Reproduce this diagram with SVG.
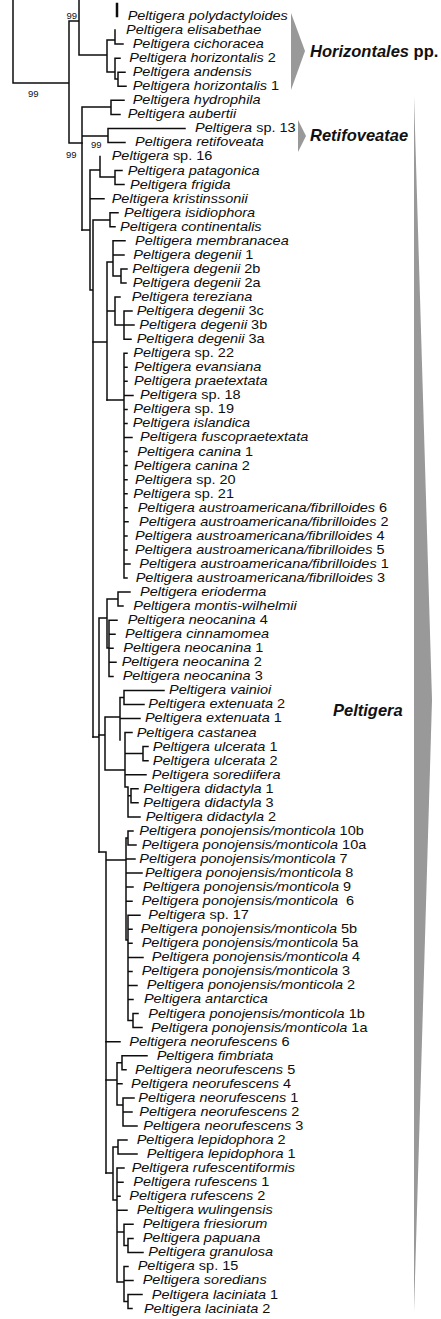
<svg xmlns="http://www.w3.org/2000/svg" width="441" height="1319" viewBox="0 0 441 1319">
<style>
.t{font-family:"Liberation Sans",Arial,sans-serif;font-size:13px;font-style:italic;fill:#0d0d0d}
.n{font-style:normal}
.c{font-family:"Liberation Sans",Arial,sans-serif;font-size:16.5px;font-weight:bold;font-style:italic;fill:#111}
.s{font-family:"Liberation Sans",Arial,sans-serif;font-size:9.5px;fill:#111}
.e{fill:none;stroke:#0d0d0d;stroke-width:1.5;stroke-linecap:square}
.g{fill:#999}
</style>
<rect width="441" height="1319" fill="#fff"/>
<g id="clades">
<polygon class="g" points="291,13 305,51 291,90"/>
<polygon class="g" points="298,120 306,136 298,152"/>
<polygon class="g" points="414,96 432,700 414,1312"/>
<text class="c" x="310" y="57">Horizontales<tspan class="n"> pp.</tspan></text>
<text class="c" x="310" y="141">Retifoveatae</text>
<text class="c" x="333" y="716">Peltigera</text>
</g>
<g id="support">
<text class="s" x="66.5" y="18.5">99</text>
<text class="s" x="28" y="97">99</text>
<text class="s" x="66" y="158">99</text>
<text class="s" x="91" y="148">99</text>
</g>
<g id="connectors" class="e">
<path d="M13,0V83H69M69,21V143H82M69,21H79M79,0V55H107M107,40V72M107,40H115M115,30.1V44.1H123M107,72H115M115,58.2V79H118M115,58.2H120M118,72.2V86.3M118,72.2H125M118,86.3H126"/>
<path d="M117,4V16" stroke-width="2.5"/>
<path d="M82,107V230M82,107H111M111,100.3V114.4M111,100.3H124M111,114.4H120M82,136H108M108,128.4V142.5M108,128.4H185M108,142.5H125"/>
<path d="M82,230H90M90,170V290M90,170H100M100,156.5V177M100,177H115M115,170.6V184.6M115,170.6H122M115,184.6H124M90,198.7H104M90,290H93M93,220V737M93,220H110M110,212.7V226.8M110,212.7H118M110,226.8H115"/>
<path d="M93,342H107M107,262V400M107,262H113M113,240.8V276M113,240.8H125M113,254.9H124M113,276H121M121,268.9V283M121,268.9H127M121,283H126M107,311H115M115,297V325.1M115,297H120M115,325.1H124M124,311.1V339.2M124,311.1H132M124,325.1H134M124,339.2H131"/>
<path d="M107,400H124M124,353.2V578M124,353.2H127M124,367.3H127M124,381.3H127M124,395.4H133M124,409.4H127M124,423.5H127M124,437.5H132M124,451.6H127M124,465.6H127M124,479.7H127M124,493.7H127M124,507.8H127M124,521.8H128M124,535.9H127M124,549.9H127M124,564H130M124,578H127"/>
<path d="M93,737H99M99,618V852M99,618H107M107,599V648M107,599H118M118,592.1V606.1M118,592.1H130M118,606.1H123M107,648H109M109,620.2V676.4M109,620.2H117M109,634.2H115M109,648.3H113M109,662.3H116M109,676.4H113"/>
<path d="M99,735H105M105,717V770M105,717H120M120,697.5V740M120,697.5H124M124,690.4V704.5M124,690.4H164M124,704.5H144M120,718.5H140M105,770H125M125,732.6V787M125,732.6H132M125,753.6H143M143,746.6V760.7M143,746.6H148M143,760.7H148M125,774.7H146M125,787H128M128,787V816.9M128,795.8H131M131,788.8V802.8M131,788.8H138M131,802.8H138M128,816.9H140"/>
<path d="M99,852H106M106,852V1173M106,860H126M126,838V940M126,838H128M128,830.9V845M128,830.9H133M128,845H136M126,859H135M126,873.1H142M126,887.1H133M126,901.2H132M126,940H128M128,915.2V1020.6M128,915.2H140M128,929.3H132M128,943.3H132M128,957.4H143M128,971.4H132M128,985.5H137M128,999.5H133M128,1020.6H133M133,1013.6V1027.6M133,1013.6H138M133,1027.6H142"/>
<path d="M106,1041.7H120M106,1080H117M117,1062.7V1105M117,1062.7H122M122,1055.7V1069.8M122,1055.7H147M122,1069.8H126M117,1083.8H122M117,1105H123M123,1097.9V1126M123,1097.9H134M123,1111.9H132M123,1126H137"/>
<path d="M106,1173H113M113,1147V1200M113,1147H118M118,1140V1154.1M118,1140H127M118,1154.1H137M113,1200H117M117,1168.1V1282M117,1168.1H124M117,1182.2H123M117,1196.2H120M117,1210.3H127M117,1232H124M124,1224.3V1245.4M124,1224.3H133M124,1245.4H128M128,1238.4V1252.4M128,1238.4H133M128,1252.4H143M117,1282H124M124,1266.5V1301.6M124,1266.5H128M124,1280.5H133M124,1301.6H128M128,1294.6V1308.6M128,1294.6H142M128,1308.6H132"/>
</g>
<g id="taxa" transform="scale(1.115,1)">
<g id="t1"><text class="t" x="114.5" y="20">Peltigera polydactyloides</text></g>
<g id="t2"><text class="t" x="113" y="34.1">Peltigera elisabethae</text></g>
<g id="t3"><text class="t" x="119" y="48.1">Peltigera cichoracea</text></g>
<g id="t4"><text class="t" x="116" y="62.2">Peltigera horizontalis<tspan class="n"> 2</tspan></text></g>
<g id="t5"><text class="t" x="119" y="76.2">Peltigera andensis</text></g>
<g id="t6"><text class="t" x="119" y="90.3">Peltigera horizontalis<tspan class="n"> 1</tspan></text></g>
<g id="t7"><text class="t" x="119" y="104.3">Peltigera hydrophila</text></g>
<g id="t8"><text class="t" x="114.5" y="118.4">Peltigera aubertii</text></g>
<g id="t9"><text class="t" x="174.9" y="132.4">Peltigera<tspan class="n"> sp. 13</tspan></text></g>
<g id="t10"><text class="t" x="121.1" y="146.5">Peltigera retifoveata</text></g>
<g id="t11"><text class="t" x="100.2" y="160.5">Peltigera<tspan class="n"> sp. 16</tspan></text></g>
<g id="t12"><text class="t" x="114.5" y="174.6">Peltigera patagonica</text></g>
<g id="t13"><text class="t" x="116.6" y="188.6">Peltigera frigida</text></g>
<g id="t14"><text class="t" x="100.2" y="202.7">Peltigera kristinssonii</text></g>
<g id="t15"><text class="t" x="111.2" y="216.7">Peltigera isidiophora</text></g>
<g id="t16"><text class="t" x="107.6" y="230.8">Peltigera continentalis</text></g>
<g id="t17"><text class="t" x="121.1" y="244.8">Peltigera membranacea</text></g>
<g id="t18"><text class="t" x="119.6" y="258.9">Peltigera degenii<tspan class="n"> 1</tspan></text></g>
<g id="t19"><text class="t" x="118.7" y="272.9">Peltigera degenii<tspan class="n"> 2b</tspan></text></g>
<g id="t20"><text class="t" x="119" y="287">Peltigera degenii<tspan class="n"> 2a</tspan></text></g>
<g id="t21"><text class="t" x="118.1" y="301">Peltigera tereziana</text></g>
<g id="t22"><text class="t" x="122.6" y="315.1">Peltigera degenii<tspan class="n"> 3c</tspan></text></g>
<g id="t23"><text class="t" x="124.9" y="329.1">Peltigera degenii<tspan class="n"> 3b</tspan></text></g>
<g id="t24"><text class="t" x="122.6" y="343.2">Peltigera degenii<tspan class="n"> 3a</tspan></text></g>
<g id="t25"><text class="t" x="119.6" y="357.2">Peltigera<tspan class="n"> sp. 22</tspan></text></g>
<g id="t26"><text class="t" x="120.4" y="371.3">Peltigera evansiana</text></g>
<g id="t27"><text class="t" x="120.2" y="385.3">Peltigera praetextata</text></g>
<g id="t28"><text class="t" x="125.6" y="399.4">Peltigera<tspan class="n"> sp. 18</tspan></text></g>
<g id="t29"><text class="t" x="119.6" y="413.4">Peltigera<tspan class="n"> sp. 19</tspan></text></g>
<g id="t30"><text class="t" x="119" y="427.5">Peltigera islandica</text></g>
<g id="t31"><text class="t" x="125.6" y="441.5">Peltigera fuscopraetextata</text></g>
<g id="t32"><text class="t" x="123.1" y="455.6">Peltigera canina<tspan class="n"> 1</tspan></text></g>
<g id="t33"><text class="t" x="120.2" y="469.6">Peltigera canina<tspan class="n"> 2</tspan></text></g>
<g id="t34"><text class="t" x="121.1" y="483.7">Peltigera<tspan class="n"> sp. 20</tspan></text></g>
<g id="t35"><text class="t" x="119.6" y="497.7">Peltigera<tspan class="n"> sp. 21</tspan></text></g>
<g id="t36"><text class="t" x="123.5" y="511.8">Peltigera austroamericana/fibrilloides<tspan class="n"> 6</tspan></text></g>
<g id="t37"><text class="t" x="124.7" y="525.8">Peltigera austroamericana/fibrilloides<tspan class="n"> 2</tspan></text></g>
<g id="t38"><text class="t" x="121.1" y="539.9">Peltigera austroamericana/fibrilloides<tspan class="n"> 4</tspan></text></g>
<g id="t39"><text class="t" x="121.1" y="553.9">Peltigera austroamericana/fibrilloides<tspan class="n"> 5</tspan></text></g>
<g id="t40"><text class="t" x="124.9" y="568">Peltigera austroamericana/fibrilloides<tspan class="n"> 1</tspan></text></g>
<g id="t41"><text class="t" x="121.7" y="582">Peltigera austroamericana/fibrilloides<tspan class="n"> 3</tspan></text></g>
<g id="t42"><text class="t" x="125.6" y="596.1">Peltigera erioderma</text></g>
<g id="t43"><text class="t" x="119.6" y="610.1">Peltigera montis-wilhelmii</text></g>
<g id="t44"><text class="t" x="114.5" y="624.2">Peltigera neocanina<tspan class="n"> 4</tspan></text></g>
<g id="t45"><text class="t" x="112.1" y="638.2">Peltigera cinnamomea</text></g>
<g id="t46"><text class="t" x="110.6" y="652.3">Peltigera neocanina<tspan class="n"> 1</tspan></text></g>
<g id="t47"><text class="t" x="109.1" y="666.3">Peltigera neocanina<tspan class="n"> 2</tspan></text></g>
<g id="t48"><text class="t" x="110" y="680.4">Peltigera neocanina<tspan class="n"> 3</tspan></text></g>
<g id="t49"><text class="t" x="151.6" y="694.4">Peltigera vainioi</text></g>
<g id="t50"><text class="t" x="133" y="708.5">Peltigera extenuata<tspan class="n"> 2</tspan></text></g>
<g id="t51"><text class="t" x="130" y="722.5">Peltigera extenuata<tspan class="n"> 1</tspan></text></g>
<g id="t52"><text class="t" x="122.6" y="736.6">Peltigera castanea</text></g>
<g id="t53"><text class="t" x="137" y="750.6">Peltigera ulcerata<tspan class="n"> 1</tspan></text></g>
<g id="t54"><text class="t" x="137" y="764.7">Peltigera ulcerata<tspan class="n"> 2</tspan></text></g>
<g id="t55"><text class="t" x="136.1" y="778.7">Peltigera sorediifera</text></g>
<g id="t56"><text class="t" x="128.5" y="792.8">Peltigera didactyla<tspan class="n"> 1</tspan></text></g>
<g id="t57"><text class="t" x="128.5" y="806.8">Peltigera didactyla<tspan class="n"> 3</tspan></text></g>
<g id="t58"><text class="t" x="130.7" y="820.9">Peltigera didactyla<tspan class="n"> 2</tspan></text></g>
<g id="t59"><text class="t" x="124.9" y="834.9">Peltigera ponojensis/monticola<tspan class="n"> 10b</tspan></text></g>
<g id="t60"><text class="t" x="127.1" y="849">Peltigera ponojensis/monticola<tspan class="n"> 10a</tspan></text></g>
<g id="t61"><text class="t" x="124.9" y="863">Peltigera ponojensis/monticola<tspan class="n"> 7</tspan></text></g>
<g id="t62"><text class="t" x="130" y="877.1">Peltigera ponojensis/monticola<tspan class="n"> 8</tspan></text></g>
<g id="t63"><text class="t" x="128" y="891.1">Peltigera ponojensis/monticola<tspan class="n"> 9</tspan></text></g>
<g id="t64"><text class="t" x="127.1" y="905.2">Peltigera ponojensis/monticola<tspan class="n" dx="3.5"> 6</tspan></text></g>
<g id="t65"><text class="t" x="133" y="919.2">Peltigera<tspan class="n"> sp. 17</tspan></text></g>
<g id="t66"><text class="t" x="126.2" y="933.3">Peltigera ponojensis/monticola<tspan class="n"> 5b</tspan></text></g>
<g id="t67"><text class="t" x="127.1" y="947.3">Peltigera ponojensis/monticola<tspan class="n"> 5a</tspan></text></g>
<g id="t68"><text class="t" x="136.1" y="961.4">Peltigera ponojensis/monticola<tspan class="n"> 4</tspan></text></g>
<g id="t69"><text class="t" x="127.1" y="975.4">Peltigera ponojensis/monticola<tspan class="n"> 3</tspan></text></g>
<g id="t70"><text class="t" x="131.6" y="989.5">Peltigera ponojensis/monticola<tspan class="n"> 2</tspan></text></g>
<g id="t71"><text class="t" x="129.1" y="1003.5">Peltigera antarctica</text></g>
<g id="t72"><text class="t" x="133" y="1017.6">Peltigera ponojensis/monticola<tspan class="n"> 1b</tspan></text></g>
<g id="t73"><text class="t" x="135.4" y="1031.6">Peltigera ponojensis/monticola<tspan class="n"> 1a</tspan></text></g>
<g id="t74"><text class="t" x="116" y="1045.7">Peltigera neorufescens<tspan class="n"> 6</tspan></text></g>
<g id="t75"><text class="t" x="140.5" y="1059.7">Peltigera fimbriata</text></g>
<g id="t76"><text class="t" x="121.1" y="1073.8">Peltigera neorufescens<tspan class="n"> 5</tspan></text></g>
<g id="t77"><text class="t" x="117.5" y="1087.8">Peltigera neorufescens<tspan class="n"> 4</tspan></text></g>
<g id="t78"><text class="t" x="124" y="1101.9">Peltigera neorufescens<tspan class="n"> 1</tspan></text></g>
<g id="t79"><text class="t" x="124.9" y="1115.9">Peltigera neorufescens<tspan class="n"> 2</tspan></text></g>
<g id="t80"><text class="t" x="128.5" y="1130">Peltigera neorufescens<tspan class="n"> 3</tspan></text></g>
<g id="t81"><text class="t" x="122.6" y="1144">Peltigera lepidophora<tspan class="n"> 2</tspan></text></g>
<g id="t82"><text class="t" x="131.6" y="1158.1">Peltigera lepidophora<tspan class="n"> 1</tspan></text></g>
<g id="t83"><text class="t" x="118.1" y="1172.1">Peltigera rufescentiformis</text></g>
<g id="t84"><text class="t" x="119.6" y="1186.2">Peltigera rufescens<tspan class="n"> 1</tspan></text></g>
<g id="t85"><text class="t" x="116" y="1200.2">Peltigera rufescens<tspan class="n"> 2</tspan></text></g>
<g id="t86"><text class="t" x="122.6" y="1214.3">Peltigera wulingensis</text></g>
<g id="t87"><text class="t" x="128" y="1228.3">Peltigera friesiorum</text></g>
<g id="t88"><text class="t" x="128" y="1242.4">Peltigera papuana</text></g>
<g id="t89"><text class="t" x="133" y="1256.4">Peltigera granulosa</text></g>
<g id="t90"><text class="t" x="123.5" y="1270.5">Peltigera<tspan class="n"> sp. 15</tspan></text></g>
<g id="t91"><text class="t" x="128" y="1284.5">Peltigera soredians</text></g>
<g id="t92"><text class="t" x="136.1" y="1298.6">Peltigera laciniata<tspan class="n"> 1</tspan></text></g>
<g id="t93"><text class="t" x="129.1" y="1312.6">Peltigera laciniata<tspan class="n"> 2</tspan></text></g>
</g>
</svg>
